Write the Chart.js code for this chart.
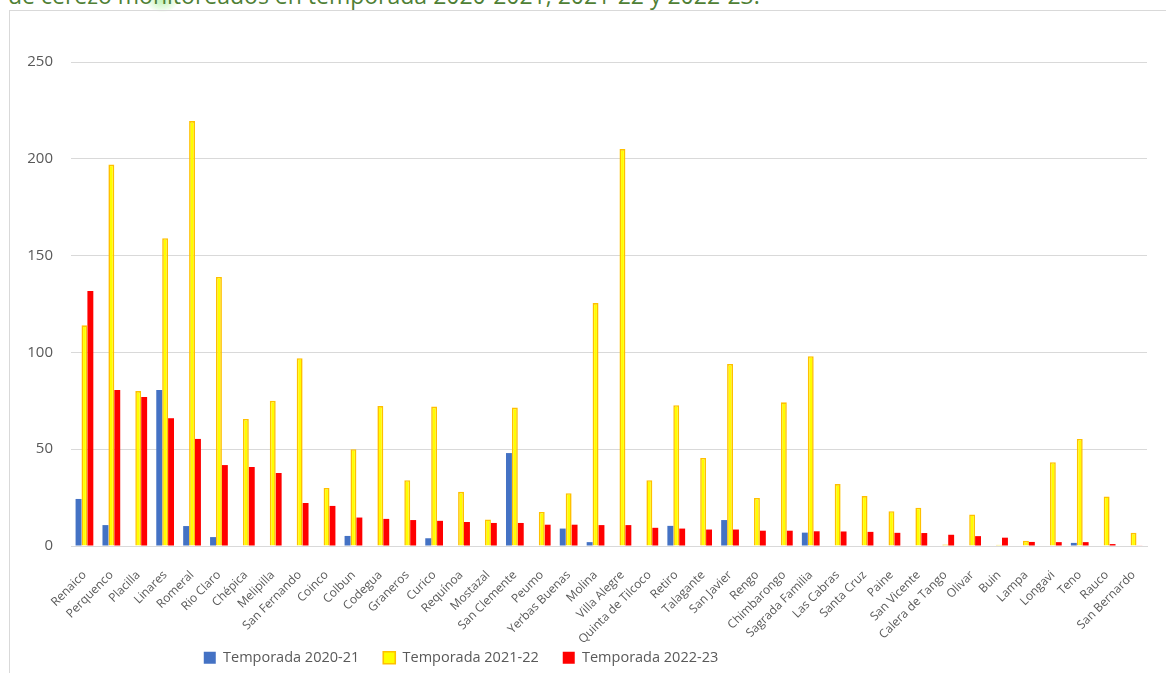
<!DOCTYPE html>
<html>
<head>
<meta charset="utf-8">
<script src="https://cdn.jsdelivr.net/npm/chart.js@4"></script>
<style>
html,body{margin:0;padding:0;background:#fff;overflow:hidden;}
#title{position:absolute;left:8px;top:-20px;font-family:"Open Sans",sans-serif;font-size:23px;line-height:31px;color:#4f7f35;white-space:nowrap;}
#glow{position:absolute;left:146px;top:-10px;width:32px;height:22px;border-radius:50%;background:radial-gradient(ellipse at center, rgba(180,240,170,0.8) 0%, rgba(200,245,190,0.4) 50%, rgba(255,255,255,0) 75%);}
#box{position:absolute;left:9px;top:10px;width:1170px;height:700px;border:1px solid #d9d9d9;box-sizing:border-box;}
#wrap{position:absolute;left:10px;top:11px;width:1156px;height:662px;}
</style>
</head>
<body>
<div id="glow"></div>
<div id="title">de cerezo monitoreados en temporada 2020-2021, 2021-22 y 2022-23.</div>
<div id="box"></div>
<div id="wrap"><canvas id="c"></canvas></div>
<script>
const categories = ["Renaico","Perquenco","Placilla","Linares","Romeral","Rio Claro","Chépica","Melipilla","San Fernando","Coinco","Colbun","Codegua","Graneros","Curico","Requínoa","Mostazal","San Clemente","Peumo","Yerbas Buenas","Molina","Villa Alegre","Quinta de Tilcoco","Retiro","Talagante","San Javier","Rengo","Chimbarongo","Sagrada Familia","Las Cabras","Santa Cruz","Paine","San Vicente","Calera de Tango","Olivar","Buin","Lampa","Longavi","Teno","Rauco","San Bernardo"];
const season2020 = [24.3,10.8,0,80.6,10.3,4.6,0,0,0,0,5.2,0,0,4,0,0,48,0,9,2,0,0,10.4,0,13.4,0,0,6.9,0,0,0,0,0,0,0,0,0,1.6,0,0];
const season2021 = [114,197,80,159,219.5,139,65.6,75,97,30,50,72.3,34,72,28,13.7,71.5,17.6,27.3,125.5,205,34,72.7,45.5,94,24.8,74.2,98,32,25.8,18,19.8,0.8,16.3,0.7,2.7,43.3,55.3,25.6,6.8];
const season2022 = [131.7,80.6,77,66,55.3,41.8,40.8,37.7,22.2,20.7,14.7,14,13.4,13,12.4,11.9,11.9,11,11,10.8,10.8,9.4,9,8.5,8.5,7.9,7.9,7.6,7.5,7.3,6.8,6.7,5.8,5.1,4.3,2.1,2,2,1,0.3];
const yTicks = [0,50,100,150,200,250];
const seriesNames = ["Temporada 2020-21","Temporada 2021-22","Temporada 2022-23"];

const legendPlace = {
  id:'legendPlace',
  afterLayout(chart){
    const lg = chart.legend;
    if(lg){
      const cx = 451;
      lg.left = cx - 420; lg.right = cx + 420;
      lg.width = lg.right - lg.left;
      lg.top += 2; lg.bottom += 2;
    }
    const xs = chart.scales.x;
    if(xs){ xs.bottom = xs.top + 110; xs.height = 110; }
  }
};

new Chart(document.getElementById('c'), {
  type: 'bar',
  data: {
    labels: categories,
    datasets: [
      {label: seriesNames[0], data: season2020, backgroundColor:'#4472C4', borderWidth:0},
      {label: seriesNames[1], data: season2021, backgroundColor:'#FFFF00', borderColor:'#FFC000', borderWidth:1.6},
      {label: seriesNames[2], data: season2022, backgroundColor:'#FF0000', borderWidth:0}
    ]
  },
  plugins:[legendPlace],
  options: {
    responsive:true, maintainAspectRatio:false, animation:false,
    layout:{padding:{left:10,right:19,top:51,bottom:0}},
    datasets:{bar:{categoryPercentage:0.66,barPercentage:1.0}},
    plugins:{
      tooltip:{enabled:false},
      legend:{position:'bottom',
        labels:{font:{family:'"Open Sans", sans-serif',size:14.5},color:'#595959',boxWidth:12,boxHeight:12,padding:24}}
    },
    scales:{
      x:{grid:{display:false,drawTicks:false},border:{color:'#d9d9d9',width:1},
         afterFit:(s)=>{s.height=78.5;},
         ticks:{font:{family:'"Open Sans", sans-serif',size:12},color:'#595959',minRotation:45,maxRotation:45,autoSkip:false,padding:22}},
      y:{min:0,max:250,
         afterBuildTicks:(a)=>{a.ticks=yTicks.map(v=>({value:v}));},
         afterFit:(s)=>{s.width=51;},
         grid:{color:'#d9d9d9',lineWidth:1,drawTicks:false},border:{display:false},
         ticks:{font:{family:'"Open Sans", sans-serif',size:15},color:'#595959',padding:18}}
    }
  }
});
</script>
</body>
</html>
